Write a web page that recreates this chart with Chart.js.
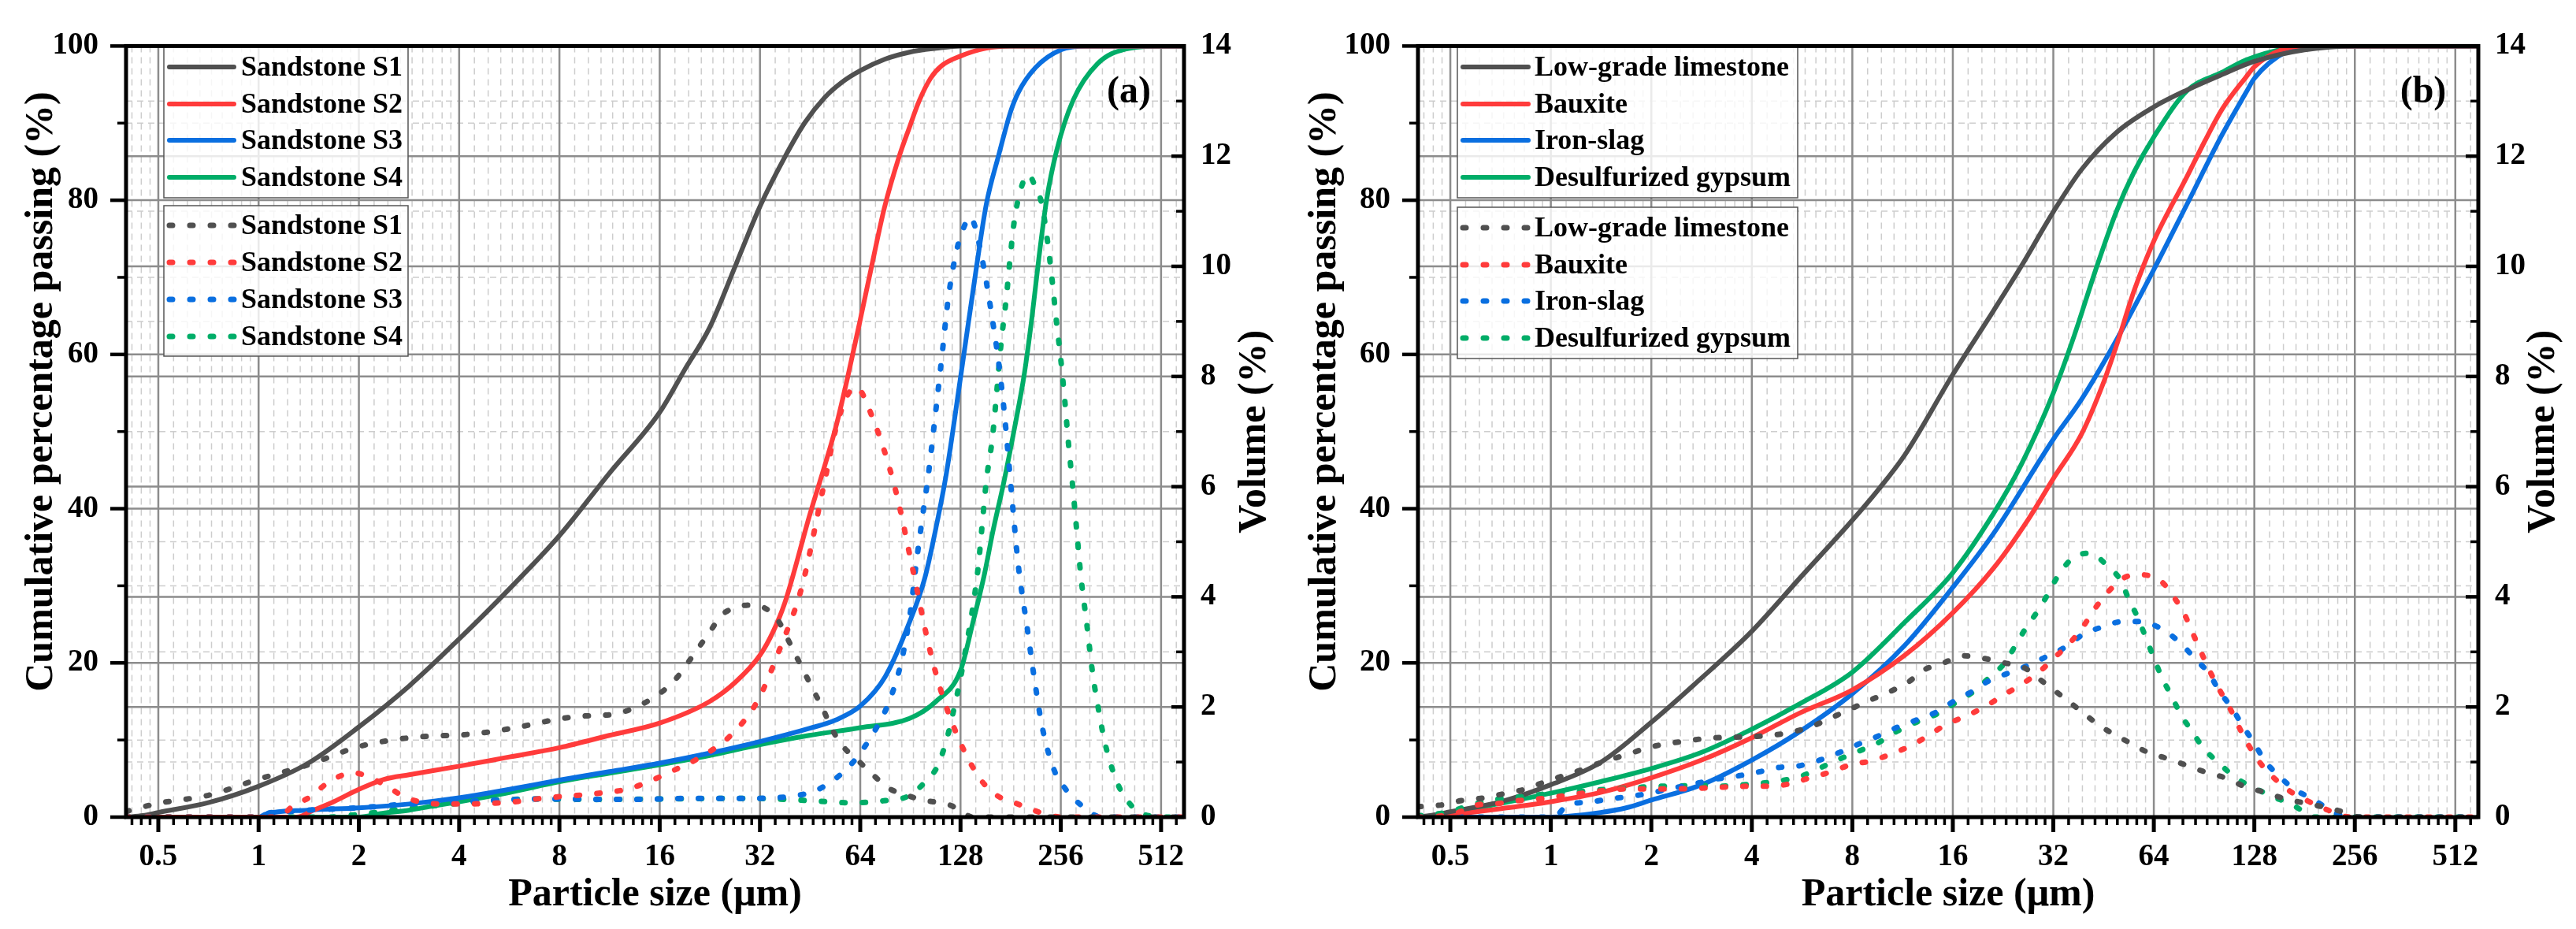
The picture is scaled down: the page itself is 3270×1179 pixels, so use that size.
<!DOCTYPE html>
<html>
<head>
<meta charset="utf-8">
<title>Particle size distribution</title>
<script src="https://cdn.jsdelivr.net/npm/chart.js@4.4.1/dist/chart.umd.min.js"></script>
<style>
  html, body { margin: 0; padding: 0; background: #fff; }
  body { width: 3270px; height: 1179px; position: relative; overflow: hidden; }
  canvas { position: absolute; top: 0; }
  #chartA { left: 0; }
  #chartB { left: 1640px; }
</style>
</head>
<body>
<canvas id="chartA" width="1640" height="1179"></canvas>
<canvas id="chartB" width="1630" height="1179"></canvas>
<script>
// Axis ticks
const sizeTicks = [0.5, 1, 2, 4, 8, 16, 32, 64, 128, 256, 512];
const passTicks = [0, 20, 40, 60, 80, 100];
const volTicks = [0, 2, 4, 6, 8, 10, 12, 14];

const sandLabels = ["Sandstone S1", "Sandstone S2", "Sandstone S3", "Sandstone S4"];
const wasteLabels = ["Low-grade limestone", "Bauxite", "Iron-slag", "Desulfurized gypsum"];
const colors = ["#505050", "#ff3b3b", "#0a6fe0", "#00ad68"];

// (a) sandstones - cumulative passing (%), [size um, value]
const s1Cum = [[0.4,0],[0.45,0.2],[0.5,0.6],[0.71,1.9],[1,4],[1.41,7],[2,11.7],[2.83,17],[4,23.1],[5.66,29.6],[8,36.5],[11.3,44.6],[16,52.5],[19,58],[22.6,63.5],[27,71.5],[32,79.2],[38,85.6],[43.7,90.1],[50,93.3],[56,95.2],[64,96.8],[76,98.3],[90,99.2],[108,99.7],[128,100],[600,100]];
const s2Cum = [[0.4,0],[1.3,0],[1.46,0.9],[1.68,2],[2,3.6],[2.38,4.9],[2.83,5.5],[4,6.6],[5.66,7.8],[8,9],[11.3,10.6],[16,12.2],[22.6,15],[27,17.5],[32,21],[35,24],[38,27.8],[45,39],[54,50.5],[58.7,57.1],[64,64.5],[69.2,71.4],[75.6,79],[83.5,85.5],[90,89.5],[96,92.8],[104,95.8],[112,97.4],[128,98.7],[152,99.7],[181,100],[600,100]];
const s3Cum = [[0.4,0],[1,0],[1.05,0.4],[1.4,0.9],[2,1.2],[2.83,1.7],[4,2.5],[5.66,3.6],[8,4.8],[11.3,5.9],[16,7],[22.6,8.3],[32,9.8],[45,11.5],[54,12.6],[64,14.4],[76,18.2],[90,25.3],[100,31],[108,37.5],[116,44.5],[128,57],[143,71.4],[153,79.5],[167,86],[181,91.5],[191,94],[215,97.2],[256,99.5],[304,100],[600,100]];
const s4Cum = [[0.4,0],[2,0],[2.35,0.5],[2.83,0.9],[3.3,1.4],[4,2],[5.66,3.2],[8,4.6],[11.3,5.7],[16,6.8],[22.6,8],[32,9.4],[45,10.6],[64,11.6],[90,12.8],[108,15],[128,19],[139,25],[151,31.5],[160,37],[173,43.6],[186,50.5],[199,57.5],[210,65],[220,72.5],[232,80],[249,86.5],[279,93],[330,97.7],[400,99.6],[512,100],[600,100]];

// (a) sandstones - volume (%)
const s1Vol = [[0.4,0.1],[0.44,0.17],[0.5,0.25],[0.71,0.4],[1,0.69],[1.41,0.95],[2,1.28],[2.83,1.44],[4.4,1.51],[5.6,1.6],[6.7,1.69],[7.6,1.76],[9.2,1.83],[11.7,1.87],[13.6,2],[15.5,2.19],[17.6,2.46],[20.5,3],[22.6,3.36],[24.6,3.67],[27.6,3.82],[30,3.85],[33,3.8],[36.2,3.58],[38.5,3.27],[40.9,2.95],[43.4,2.64],[46.5,2.28],[49.5,1.96],[52.6,1.6],[56.7,1.29],[63.2,1.02],[70.4,0.75],[78.2,0.52],[88.9,0.39],[100.5,0.3],[111.4,0.26],[121,0.2],[130,0.08],[140,0],[600,0]];
const s2Vol = [[0.4,0],[1.15,0],[1.26,0.19],[1.44,0.38],[1.6,0.61],[1.8,0.77],[1.95,0.8],[2.1,0.75],[2.43,0.56],[2.7,0.39],[3.13,0.26],[3.6,0.24],[4.2,0.24],[5.66,0.27],[7.3,0.35],[10,0.42],[13,0.52],[17.5,0.84],[21.5,1.11],[26,1.47],[31.4,2.1],[36.9,3.09],[42.7,4.17],[49.5,5.96],[55,7.22],[62,7.81],[70,7.22],[81.5,5.96],[92,4.5],[102.4,3.16],[111.2,2.34],[127.7,1.36],[146.8,0.69],[164,0.4],[188,0.25],[211,0.13],[242,0.02],[260,0],[600,0]];
const s3Vol = [[0.4,0],[1,0],[1.07,0.07],[1.23,0.1],[1.43,0.13],[1.89,0.16],[2.7,0.23],[4,0.28],[5.3,0.31],[7.1,0.33],[13,0.32],[20,0.34],[30,0.34],[40,0.38],[46.5,0.47],[52.6,0.65],[59.7,0.94],[66.2,1.29],[72,1.65],[78.2,2.1],[85,2.82],[90.5,3.72],[94.3,4.62],[98.3,5.43],[102.4,6.2],[108,7.4],[112.7,8.4],[117.5,9.4],[124.3,10.26],[131.4,10.73],[136.9,10.9],[141,10.75],[146.8,10.3],[153,9.72],[159.6,9.03],[166.4,8.28],[173.4,7.32],[183.3,5.69],[191,4.55],[202,3.52],[213.5,2.49],[225.6,1.61],[245,0.84],[263,0.53],[294,0.22],[328,0.02],[350,0],[600,0]];
const s4Vol = [[0.4,0],[1.6,0],[2,0.05],[2.5,0.12],[4,0.25],[6.6,0.33],[10,0.32],[16,0.33],[30,0.34],[45,0.3],[60,0.26],[76,0.3],[89,0.38],[101,0.66],[109.7,0.95],[117.5,1.51],[122.5,1.98],[127.7,2.49],[133.2,3.11],[136.9,3.52],[140.8,3.99],[144.7,4.55],[148.8,5.33],[153,6.1],[159.6,6.89],[164,7.64],[168.7,8.49],[175.8,9.45],[180.7,10.2],[185.8,10.84],[193.7,11.38],[204.8,11.67],[213.5,11.48],[222.6,11.22],[228.8,10.84],[235.2,10.31],[241.9,9.67],[248.7,8.97],[255.8,8.33],[263,7.58],[270,6.78],[277,6.1],[285.6,5.22],[293.8,4.4],[306.2,3.52],[319.2,2.6],[332.8,1.93],[347,1.36],[366.8,0.84],[387.8,0.48],[415.6,0.22],[445.7,0.07],[490,0.01],[520,0],[600,0]];

// (b) solid wastes - cumulative passing (%)
const limeCum = [[0.4,0],[0.45,0.3],[0.5,0.7],[0.71,2],[1,4.2],[1.41,7.1],[2,12.3],[2.69,17.2],[4,24.1],[5.57,31],[8,38.5],[9.5,42.3],[11.5,47],[16,57.4],[21.2,65.7],[25.7,71.5],[32,78.5],[38.9,84],[49.5,88.8],[64,92.1],[80.5,94.3],[102.5,96.3],[128,98],[181,99.5],[256,100],[600,100]];
const bauxCum = [[0.4,0],[0.45,0.1],[0.5,0.3],[0.71,1.1],[1,2],[1.41,3.2],[2,5.1],[2.83,7.4],[4,10.3],[5.57,13.5],[8,16.5],[11.5,21],[16,26.5],[21.2,32.3],[27,38.7],[32,43.9],[38.9,49.7],[45,56.1],[49.5,61.2],[55.9,68.3],[64,74.7],[80.5,83.1],[90.8,87.6],[102.5,91.8],[121,96],[128,97.3],[154,99.5],[181,100],[600,100]];
const ironCum = [[0.4,0],[1,0],[1.12,0.1],[1.41,0.6],[1.68,1.2],[2,2.2],[2.83,4.2],[4,7.4],[5.57,11.1],[8,16],[11.5,22.3],[16,29.8],[21.2,36.8],[32,49],[38.9,54.2],[49.5,61.9],[64,71],[80.5,79.5],[102.5,88.5],[121,94],[128,95.8],[160,99.3],[200,100],[600,100]];
const gypCum = [[0.4,0],[0.45,0.2],[0.5,0.5],[0.71,1.8],[1,3.1],[1.41,4.6],[2,6.3],[2.83,8.4],[4,11.4],[5.57,14.7],[8,18.8],[11.5,25.3],[16,31.7],[21.2,39.4],[25.7,45.8],[32,55],[37,62.5],[42.8,70.9],[49.5,78.6],[55.9,83.7],[64,88.2],[80.5,94.2],[102.5,96.6],[121,98.2],[160,99.7],[200,100],[600,100]];

// (b) solid wastes - volume (%)
const limeVol = [[0.4,0.19],[0.47,0.22],[0.54,0.3],[0.63,0.35],[0.73,0.43],[0.84,0.51],[0.96,0.64],[1.25,0.87],[1.46,1.02],[1.68,1.13],[1.93,1.25],[2.21,1.33],[2.54,1.38],[2.92,1.43],[3.91,1.46],[4.49,1.48],[5.23,1.54],[6.01,1.64],[6.9,1.8],[7.82,1.95],[8.86,2.1],[10.2,2.26],[11.7,2.44],[13.1,2.67],[15,2.8],[17.25,2.93],[19.9,2.88],[22.9,2.8],[26.4,2.7],[29.6,2.47],[33.7,2.21],[37.7,1.98],[42.3,1.74],[47.4,1.54],[53.8,1.36],[61.2,1.18],[69.6,1.07],[80.2,0.94],[91.1,0.82],[105,0.71],[119.4,0.56],[137.7,0.45],[158.8,0.33],[183,0.25],[211,0.17],[243,0.07],[258,0.01],[280,0],[600,0]];
const bauxVol = [[0.4,0],[0.45,0.01],[0.52,0.07],[0.6,0.22],[0.7,0.25],[0.8,0.3],[0.92,0.33],[1.07,0.38],[1.23,0.43],[1.44,0.48],[1.65,0.51],[2.21,0.51],[2.92,0.53],[3.86,0.56],[4.55,0.56],[5.23,0.61],[6.01,0.72],[6.9,0.82],[7.9,0.95],[9.1,1.02],[10.5,1.15],[12.1,1.31],[15.4,1.69],[17.75,1.85],[19.9,2],[22.9,2.23],[25.7,2.41],[29.2,2.65],[32.3,2.9],[35.6,3.14],[39.4,3.47],[42.9,3.81],[46.7,4.09],[52.3,4.35],[58.6,4.4],[67.6,4.27],[73.6,3.99],[79.1,3.68],[83.7,3.34],[88.6,3],[93.8,2.67],[100.7,2.31],[108.1,1.98],[114.4,1.67],[122.9,1.31],[133.8,0.97],[147.8,0.69],[165.6,0.45],[188.3,0.27],[214.1,0.12],[236.4,0.02],[250,0],[600,0]];
const ironVol = [[0.4,0],[1,0],[1.05,0.05],[1.12,0.22],[1.29,0.27],[1.5,0.33],[1.75,0.38],[2.04,0.45],[2.34,0.53],[2.72,0.61],[3.13,0.69],[3.65,0.75],[4.19,0.82],[4.81,0.9],[5.53,0.93],[6.35,1.03],[7.3,1.17],[8.38,1.33],[9.63,1.48],[10.9,1.63],[12.4,1.76],[14.55,1.93],[16.05,2.1],[18.26,2.28],[20.46,2.47],[23.6,2.62],[26.8,2.75],[30.9,2.93],[34.6,3.08],[39.4,3.32],[44.7,3.45],[51.6,3.55],[58.6,3.55],[68.6,3.39],[76.9,3.16],[84.9,2.88],[93.8,2.6],[100.7,2.28],[109.7,1.98],[117.8,1.67],[128.3,1.33],[137.7,1.02],[152.2,0.74],[168.1,0.51],[191.1,0.33],[217.1,0.12],[236.4,0.02],[250,0],[600,0]];
const gypVol = [[0.4,0.02],[0.5,0.1],[0.55,0.18],[0.64,0.29],[0.75,0.35],[0.86,0.38],[0.99,0.43],[1.17,0.45],[1.3,0.48],[1.52,0.51],[1.77,0.53],[2.04,0.56],[2.37,0.56],[2.72,0.58],[3.17,0.56],[3.65,0.58],[4.19,0.61],[4.88,0.66],[5.6,0.74],[6.44,0.9],[7.3,1.05],[8.38,1.2],[9.63,1.36],[10.9,1.56],[12.4,1.72],[14.1,1.85],[16.05,2.05],[18.26,2.26],[20.46,2.52],[22.9,2.8],[24.6,3.11],[26.4,3.42],[28.8,3.75],[30.9,4.06],[33.2,4.4],[36.7,4.71],[41.1,4.79],[46.7,4.55],[50.9,4.3],[53.8,3.96],[57,3.65],[60.3,3.29],[63.9,2.9],[67.6,2.54],[72.6,2.18],[76.9,1.87],[83.7,1.54],[89.9,1.26],[100.7,0.97],[112.8,0.71],[128.3,0.53],[143.7,0.38],[163.3,0.25],[183,0.07],[191,0],[600,0]];

const FONT = '"Liberation Serif", "Times New Roman", serif';
const tickFont = { family: FONT, size: 39, weight: "bold" };

// minor ticks: 8 linear steps inside every octave, as in the original plot
const sizeMinor = [];
[0.25].concat(sizeTicks).forEach(a => {
  for (let k = 1; k < 9; k++) {
    const v = a * (1 + k / 9);
    if (v > 0.4 && v < 600) sizeMinor.push(v);
  }
});
const passMinor = [10, 30, 50, 70, 90];
const volMinor = [1, 3, 5, 7, 9, 11, 13];

function toPoints(pairs) {
  return pairs.map(p => ({ x: p[0], y: p[1] }));
}

function buildDatasets(labels, cum, vol) {
  const sets = [];
  labels.forEach((label, i) => {
    sets.push({ label: label, kind: "cum", data: toPoints(cum[i]), yAxisID: "y",
      borderColor: colors[i], borderWidth: 6, borderCapStyle: "round", order: 1 });
  });
  labels.forEach((label, i) => {
    sets.push({ label: label, kind: "vol", data: toPoints(vol[i]), yAxisID: "y2",
      borderColor: colors[i], borderWidth: 7, borderDash: [4, 22], borderCapStyle: "round", order: 0 });
  });
  return sets;
}

// grid, frame, ticks, legends and titles
const decor = {
  id: "decor",
  beforeDatasetsDraw(chart) {
    const { ctx, chartArea: a, scales } = chart;
    const vline = v => { const p = scales.x.getPixelForValue(v); ctx.moveTo(p, a.top); ctx.lineTo(p, a.bottom); };
    const hline = s => v => { const p = s.getPixelForValue(v); ctx.moveTo(a.left, p); ctx.lineTo(a.right, p); };
    ctx.save();
    ctx.beginPath();
    ctx.rect(a.left, a.top, a.width, a.height);
    ctx.clip();
    ctx.beginPath();
    ctx.setLineDash([8, 6]);
    ctx.lineWidth = 1.5;
    ctx.strokeStyle = "#cdcdcd";
    sizeMinor.forEach(vline);
    passMinor.forEach(hline(scales.y));
    volMinor.forEach(hline(scales.y2));
    ctx.stroke();
    ctx.beginPath();
    ctx.setLineDash([]);
    ctx.lineWidth = 2.5;
    ctx.strokeStyle = "#8c8c8c";
    sizeTicks.forEach(vline);
    passTicks.forEach(hline(scales.y));
    volTicks.forEach(hline(scales.y2));
    ctx.stroke();
    ctx.restore();
  },
  afterDatasetsDraw(chart, args, opts) {
    const { ctx, chartArea: a, scales } = chart;
    ctx.save();

    // legend boxes
    const lg = opts.legend;
    ctx.font = "bold 36px " + FONT;
    ctx.textAlign = "left";
    ctx.textBaseline = "middle";
    ["cum", "vol"].forEach((kind, b) => {
      const box = lg.boxes[b];
      ctx.setLineDash([]);
      ctx.fillStyle = "rgba(255,255,255,0.82)";
      ctx.fillRect(lg.x, box.top, lg.w, box.h);
      ctx.strokeStyle = "#555";
      ctx.lineWidth = 1.5;
      ctx.strokeRect(lg.x, box.top, lg.w, box.h);
      chart.data.datasets.filter(d => d.kind === kind).forEach((d, i) => {
        const yy = box.rows[i];
        ctx.strokeStyle = d.borderColor;
        ctx.lineWidth = d.borderWidth;
        ctx.lineCap = "round";
        ctx.setLineDash(d.borderDash || []);
        ctx.beginPath();
        ctx.moveTo(lg.x0, yy);
        ctx.lineTo(lg.x1, yy);
        ctx.stroke();
        ctx.setLineDash([]);
        ctx.fillStyle = "#000";
        ctx.fillText(d.label, lg.tx, yy + 2);
      });
    });

    // ticks
    ctx.setLineDash([]);
    ctx.lineCap = "butt";
    ctx.strokeStyle = "#000";
    const mark = (x1, y1, x2, y2, w) => {
      ctx.lineWidth = w;
      ctx.beginPath();
      ctx.moveTo(x1, y1);
      ctx.lineTo(x2, y2);
      ctx.stroke();
    };
    sizeTicks.forEach(v => { const p = scales.x.getPixelForValue(v); mark(p, a.bottom, p, a.bottom + 19, 5); });
    sizeMinor.forEach(v => { const p = scales.x.getPixelForValue(v); mark(p, a.bottom, p, a.bottom + 10, 3.5); });
    passTicks.forEach(v => { const p = scales.y.getPixelForValue(v); mark(a.left, p, a.left - 20, p, 4.5); });
    passMinor.forEach(v => { const p = scales.y.getPixelForValue(v); mark(a.left, p, a.left - 11, p, 3.5); });
    volTicks.forEach(v => { const p = scales.y2.getPixelForValue(v); mark(a.right, p, a.right - 16, p, 4.5); });
    volMinor.forEach(v => { const p = scales.y2.getPixelForValue(v); mark(a.right, p, a.right - 10, p, 3.5); });

    // frame
    ctx.lineWidth = 5;
    ctx.strokeRect(a.left, a.top, a.width, a.height);

    // titles
    ctx.fillStyle = "#000";
    ctx.font = "bold 50px " + FONT;
    ctx.textAlign = "center";
    ctx.textBaseline = "alphabetic";
    ctx.fillText("Particle size (\u03bcm)", (a.left + a.right) / 2, 1149);
    ctx.save();
    ctx.translate(opts.leftTitleX, 497);
    ctx.rotate(-Math.PI / 2);
    ctx.fillText("Cumulative percentage passing (%)", 0, 0);
    ctx.restore();
    ctx.save();
    ctx.translate(opts.rightTitleX, (a.top + a.bottom) / 2);
    ctx.rotate(-Math.PI / 2);
    ctx.fillText("Volume (%)", 0, 0);
    ctx.restore();

    ctx.font = "bold 48px " + FONT;
    ctx.textBaseline = "middle";
    ctx.fillText(opts.tag, opts.tagX, 118);
    ctx.restore();
  }
};

function makePanel(id, labels, cum, vol, rightWidth, deco) {
  return new Chart(document.getElementById(id), {
    type: "line",
    data: { datasets: buildDatasets(labels, cum, vol) },
    options: {
      responsive: false,
      animation: false,
      devicePixelRatio: 1,
      layout: { padding: { top: 34, left: 0, right: 0, bottom: 0 } },
      elements: {
        point: { radius: 0 },
        line: { cubicInterpolationMode: "monotone", borderJoinStyle: "round" }
      },
      plugins: { legend: { display: false }, tooltip: { enabled: false }, decor: deco },
      scales: {
        x: {
          type: "logarithmic", position: "bottom", min: 0.4, max: 600,
          grid: { display: false, drawTicks: false }, border: { display: false },
          ticks: { autoSkip: false, maxRotation: 0, minRotation: 0, padding: 28, color: "#000", font: tickFont,
            callback: v => String(v) },
          afterBuildTicks: s => { s.ticks = sizeTicks.map(v => ({ value: v })); },
          afterFit: s => { s.height = 142; }
        },
        y: {
          type: "linear", position: "left", min: 0, max: 100,
          grid: { display: false, drawTicks: false }, border: { display: false },
          ticks: { stepSize: 20, padding: 35, color: "#000", font: tickFont },
          afterFit: s => { s.width = 160; }
        },
        y2: {
          type: "linear", position: "right", min: 0, max: 14,
          grid: { display: false, drawTicks: false }, border: { display: false },
          ticks: { stepSize: 2, padding: 21, color: "#000", font: tickFont },
          afterFit: s => { s.width = rightWidth; }
        }
      }
    },
    plugins: [decor]
  });
}

makePanel("chartA", sandLabels, [s1Cum, s2Cum, s3Cum, s4Cum], [s1Vol, s2Vol, s3Vol, s4Vol], 137, {
  tag: "(a)", tagX: 1433, leftTitleX: 66, rightTitleX: 1606,
  legend: { x: 208, w: 310, x0: 215, x1: 297, tx: 306,
    boxes: [ { top: 58.5, h: 192.5, rows: [85, 132, 178, 225] },
             { top: 261, h: 191, rows: [286, 333, 380, 427] } ] }
});

makePanel("chartB", wasteLabels, [limeCum, bauxCum, ironCum, gypCum], [limeVol, bauxVol, ironVol, gypVol], 124, {
  tag: "(b)", tagX: 1436, leftTitleX: 55, rightTitleX: 1602,
  legend: { x: 210, w: 432, x0: 217, x1: 300, tx: 308,
    boxes: [ { top: 58.5, h: 192.5, rows: [85, 132, 178, 225] },
             { top: 263, h: 192, rows: [289, 336, 382, 429] } ] }
});
</script>
</body>
</html>
